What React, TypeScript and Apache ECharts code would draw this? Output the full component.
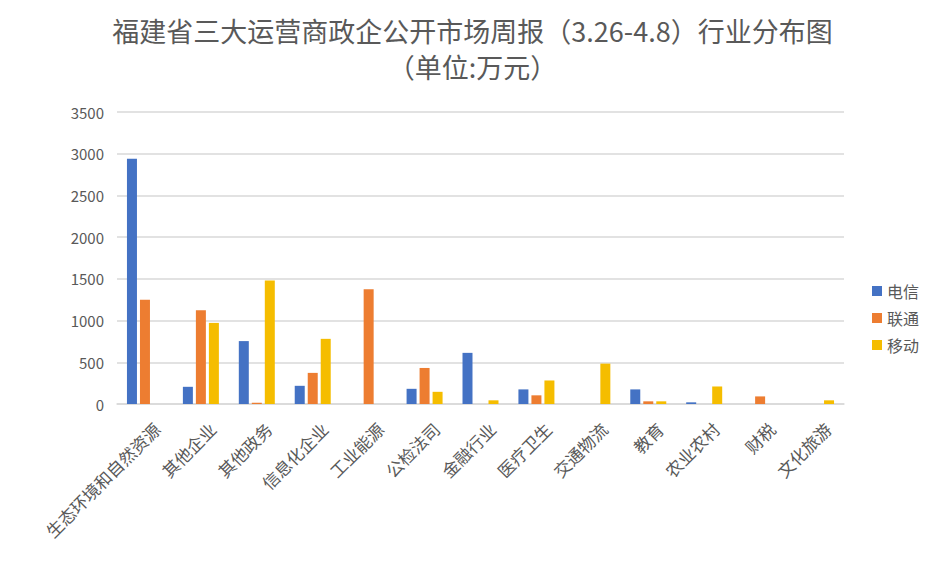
import React, { useEffect, useRef } from 'react';
import * as echarts from 'echarts';
import type { EChartsOption } from 'echarts';

const categories = [
  '生态环境和自然资源', '其他企业', '其他政务', '信息化企业', '工业能源', '公检法司',
  '金融行业', '医疗卫生', '交通物流', '教育', '农业农村', '财税', '文化旅游',
];
const telecom = [2940, 206, 754, 218, 0, 182, 613, 175, 0, 175, 20, 0, 0];
const unicom = [1250, 1125, 15, 373, 1375, 432, 0, 104, 0, 32, 0, 91, 0];
const mobile = [0, 972, 1480, 781, 0, 146, 44, 282, 484, 32, 210, 0, 44];

const FONT = '"Noto Sans CJK SC", "Noto Sans", sans-serif';

const App: React.FC = () => {
  const chartRef = useRef<HTMLDivElement>(null);

  useEffect(() => {
    if (!chartRef.current) return;
    const chart = echarts.init(chartRef.current, undefined, { renderer: 'svg' });
    const bar = (name: string, data: number[], color: string) => ({
      name,
      type: 'bar' as const,
      data,
      barWidth: 10,
      barGap: '30%',
      itemStyle: { color },
    });
    const option: EChartsOption = {
      animation: false,
      backgroundColor: '#fff',
      textStyle: { fontFamily: FONT },
      title: {
        text: '福建省三大运营商政企公开市场周报（3.26-4.8）行业分布图\n（单位:万元）',
        left: 'center',
        top: 6,
        textStyle: { fontSize: 27, fontWeight: 'normal', color: '#595959', lineHeight: 36, fontFamily: FONT },
      },
      legend: {
        orient: 'vertical',
        left: 866,
        top: 277,
        itemWidth: 10,
        itemHeight: 10,
        itemGap: 11,
        icon: 'rect',
        textStyle: { fontSize: 16, color: '#595959' },
        data: ['电信', '联通', '移动'],
      },
      grid: { left: 116, right: 100, top: 111, bottom: 160 },
      xAxis: {
        type: 'category',
        data: categories,
        axisLine: { lineStyle: { color: '#d9d9d9', width: 1.5 } },
        axisTick: { show: false },
        axisLabel: {
          rotate: 45,
          fontSize: 17,
          color: '#595959',
          interval: 0,
          margin: 10,
          verticalAlign: 'top',
          padding: [8, 0, 0, 0],
        },
      },
      yAxis: {
        type: 'value',
        min: 0,
        max: 3500,
        interval: 500,
        axisLine: { show: false },
        axisTick: { show: false },
        axisLabel: { fontSize: 15, color: '#595959', margin: 13, formatter: (v: number) => String(v) },
        splitLine: { lineStyle: { color: '#d9d9d9', width: 1.5 } },
      },
      series: [
        bar('电信', telecom, '#4472C4'),
        bar('联通', unicom, '#ED7D31'),
        bar('移动', mobile, '#F5BD00'),
      ],
    };
    chart.setOption(option);
    return () => chart.dispose();
  }, []);

  return (
    <div style={{ margin: -8 }}>
      <div
        ref={chartRef}
        style={{ width: 943, height: 563, border: '1px solid #d9d9d9' }}
      />
    </div>
  );
};

export default App;
